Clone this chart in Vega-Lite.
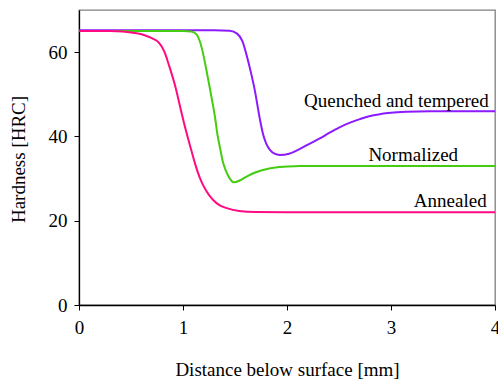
{
  "$schema": "https://vega.github.io/schema/vega-lite/v6.json",
  "width": 416,
  "height": 295,
  "autosize": {"type": "none"},
  "padding": {"left": 79, "top": 10, "right": 3, "bottom": 76},
  "config": {
    "view": {"stroke": "#808080", "strokeWidth": 1.3},
    "font": "Times New Roman, Liberation Serif, DejaVu Serif, serif",
    "text": {"font": "Times New Roman, Liberation Serif, DejaVu Serif, serif"},
    "axis": {
      "grid": false,
      "domainColor": "#000000",
      "domainWidth": 1.3,
      "tickColor": "#000000",
      "tickSize": 5,
      "labelFont": "Times New Roman, Liberation Serif, DejaVu Serif, serif",
      "labelFontSize": 19,
      "labelColor": "#000000",
      "titleFont": "Times New Roman, Liberation Serif, DejaVu Serif, serif",
      "titleFontSize": 19,
      "titleFontWeight": "normal",
      "titleColor": "#000000"
    }
  },
  "datasets": {
    "curves": [
      {"series": "Quenched and tempered", "x": 0, "y": 65.2},
      {"series": "Quenched and tempered", "x": 1.3, "y": 65.2},
      {"series": "Quenched and tempered", "x": 1.45, "y": 65.1},
      {"series": "Quenched and tempered", "x": 1.52, "y": 64.4},
      {"series": "Quenched and tempered", "x": 1.57, "y": 62.7},
      {"series": "Quenched and tempered", "x": 1.62, "y": 58.5},
      {"series": "Quenched and tempered", "x": 1.65, "y": 55.5},
      {"series": "Quenched and tempered", "x": 1.69, "y": 51},
      {"series": "Quenched and tempered", "x": 1.74, "y": 44},
      {"series": "Quenched and tempered", "x": 1.77, "y": 40.5},
      {"series": "Quenched and tempered", "x": 1.8, "y": 38.3},
      {"series": "Quenched and tempered", "x": 1.84, "y": 36.7},
      {"series": "Quenched and tempered", "x": 1.88, "y": 35.9},
      {"series": "Quenched and tempered", "x": 1.93, "y": 35.6},
      {"series": "Quenched and tempered", "x": 2.02, "y": 35.9},
      {"series": "Quenched and tempered", "x": 2.12, "y": 37},
      {"series": "Quenched and tempered", "x": 2.22, "y": 38.3},
      {"series": "Quenched and tempered", "x": 2.32, "y": 39.6},
      {"series": "Quenched and tempered", "x": 2.41, "y": 40.9},
      {"series": "Quenched and tempered", "x": 2.5, "y": 42.1},
      {"series": "Quenched and tempered", "x": 2.6, "y": 43.2},
      {"series": "Quenched and tempered", "x": 2.7, "y": 44.1},
      {"series": "Quenched and tempered", "x": 2.79, "y": 44.8},
      {"series": "Quenched and tempered", "x": 2.9, "y": 45.3},
      {"series": "Quenched and tempered", "x": 3.0, "y": 45.6},
      {"series": "Quenched and tempered", "x": 3.15, "y": 45.85},
      {"series": "Quenched and tempered", "x": 3.37, "y": 46},
      {"series": "Quenched and tempered", "x": 4, "y": 46},
      {"series": "Normalized", "x": 0, "y": 65},
      {"series": "Normalized", "x": 1.0, "y": 65},
      {"series": "Normalized", "x": 1.08, "y": 64.9},
      {"series": "Normalized", "x": 1.13, "y": 64.2},
      {"series": "Normalized", "x": 1.16, "y": 62.7},
      {"series": "Normalized", "x": 1.19, "y": 60},
      {"series": "Normalized", "x": 1.22, "y": 56.4},
      {"series": "Normalized", "x": 1.25, "y": 52.5},
      {"series": "Normalized", "x": 1.28, "y": 48.5},
      {"series": "Normalized", "x": 1.31, "y": 44.2},
      {"series": "Normalized", "x": 1.33, "y": 40.6},
      {"series": "Normalized", "x": 1.36, "y": 36.8},
      {"series": "Normalized", "x": 1.38, "y": 34.3},
      {"series": "Normalized", "x": 1.41, "y": 32},
      {"series": "Normalized", "x": 1.45, "y": 30},
      {"series": "Normalized", "x": 1.49, "y": 29.1},
      {"series": "Normalized", "x": 1.55, "y": 29.6},
      {"series": "Normalized", "x": 1.62, "y": 30.6},
      {"series": "Normalized", "x": 1.7, "y": 31.5},
      {"series": "Normalized", "x": 1.83, "y": 32.4},
      {"series": "Normalized", "x": 2.0, "y": 32.85},
      {"series": "Normalized", "x": 2.12, "y": 33},
      {"series": "Normalized", "x": 3, "y": 33},
      {"series": "Normalized", "x": 4, "y": 33},
      {"series": "Annealed", "x": 0, "y": 65},
      {"series": "Annealed", "x": 0.3, "y": 65},
      {"series": "Annealed", "x": 0.42, "y": 64.9},
      {"series": "Annealed", "x": 0.52, "y": 64.6},
      {"series": "Annealed", "x": 0.61, "y": 64.2},
      {"series": "Annealed", "x": 0.7, "y": 63.3},
      {"series": "Annealed", "x": 0.77, "y": 62.2},
      {"series": "Annealed", "x": 0.82, "y": 60.2},
      {"series": "Annealed", "x": 0.87, "y": 56.5},
      {"series": "Annealed", "x": 0.93, "y": 51.5},
      {"series": "Annealed", "x": 0.98, "y": 46.2},
      {"series": "Annealed", "x": 1.03, "y": 41.2},
      {"series": "Annealed", "x": 1.08, "y": 36.7},
      {"series": "Annealed", "x": 1.12, "y": 33.2},
      {"series": "Annealed", "x": 1.16, "y": 30.3},
      {"series": "Annealed", "x": 1.22, "y": 27.2},
      {"series": "Annealed", "x": 1.29, "y": 24.9},
      {"series": "Annealed", "x": 1.35, "y": 23.7},
      {"series": "Annealed", "x": 1.42, "y": 23.0},
      {"series": "Annealed", "x": 1.54, "y": 22.3},
      {"series": "Annealed", "x": 1.7, "y": 22.05},
      {"series": "Annealed", "x": 2, "y": 22},
      {"series": "Annealed", "x": 3, "y": 22},
      {"series": "Annealed", "x": 4, "y": 22}
    ],
    "labels": [
      {"label": "Quenched and tempered", "x": 3.94, "y": 47.06},
      {"label": "Normalized", "x": 3.645, "y": 34.24},
      {"label": "Annealed", "x": 3.92, "y": 23.3}
    ]
  },
  "layer": [
    {
      "data": {"name": "curves"},
      "mark": {"type": "line", "interpolate": "monotone", "strokeWidth": 2},
      "encoding": {
        "x": {
          "field": "x", "type": "quantitative",
          "scale": {"domain": [0, 4], "nice": false},
          "axis": {
            "values": [0, 1, 2, 3, 4], "format": "d",
            "title": "Distance below surface [mm]",
            "labelPadding": 8,
            "labelFlush": false,
            "titleY": 70, "titleBaseline": "alphabetic"
          }
        },
        "y": {
          "field": "y", "type": "quantitative",
          "scale": {"domain": [0, 70], "nice": false},
          "axis": {
            "values": [0, 20, 40, 60], "format": "d",
            "title": "Hardness [HRC]",
            "labelPadding": 7,
            "labelFlush": false,
            "titleX": -61, "titleY": 149, "titleAngle": 270,
            "titleBaseline": "middle", "titleAlign": "center"
          }
        },
        "color": {
          "field": "series", "type": "nominal", "legend": null,
          "scale": {
            "domain": ["Quenched and tempered", "Normalized", "Annealed"],
            "range": ["#8c1aff", "#44cc11", "#ff0a82"]
          }
        },
        "order": {"field": "x", "type": "quantitative"}
      }
    },
    {
      "data": {"name": "labels"},
      "mark": {"type": "text", "align": "right", "baseline": "alphabetic", "fontSize": 19, "font": "Times New Roman, Liberation Serif, DejaVu Serif, serif", "color": "#000000"},
      "encoding": {
        "x": {"field": "x", "type": "quantitative"},
        "y": {"field": "y", "type": "quantitative"},
        "text": {"field": "label", "type": "nominal"}
      }
    }
  ]
}
